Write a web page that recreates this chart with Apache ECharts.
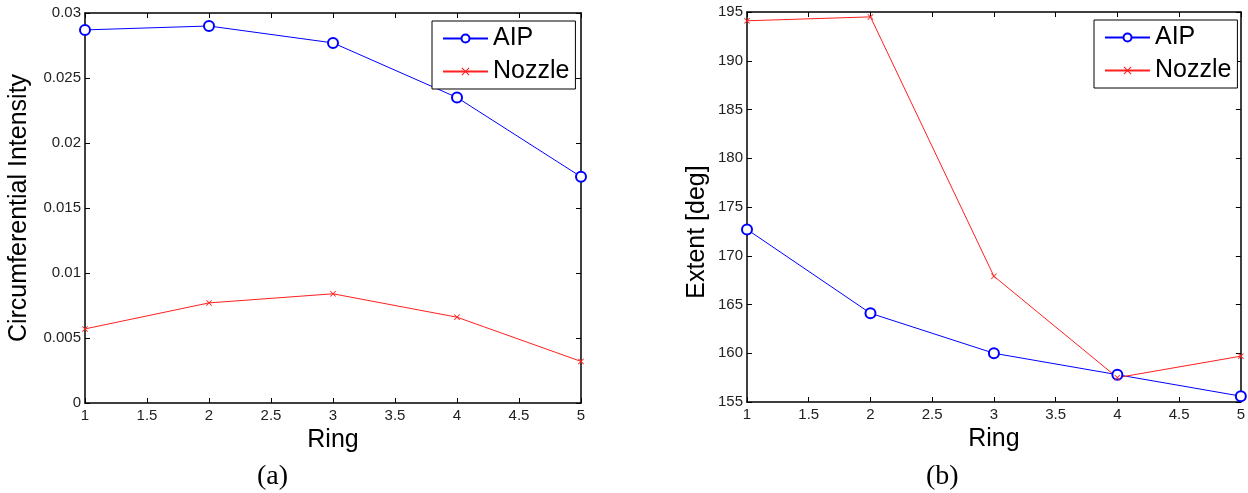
<!DOCTYPE html>
<html>
<head>
<meta charset="utf-8">
<script src="https://cdn.jsdelivr.net/npm/echarts@6/dist/echarts.min.js"></script>
<style>
html,body{margin:0;padding:0;background:#fff;}
#chart{width:1248px;height:493px;}
</style>
</head>
<body>
<div id="chart"></div>
<script>
// ---- data ----
var rings = [1, 2, 3, 4, 5];
var aipIntensity = [0.0287, 0.0290, 0.0277, 0.0235, 0.0174];
var nozzleIntensity = [0.0057, 0.0077, 0.0084, 0.0066, 0.0032];
var aipExtent = [172.7, 164.1, 160.0, 157.8, 155.6];
var nozzleExtent = [194.1, 194.5, 167.9, 157.5, 159.7];
var seriesNames = ['AIP', 'Nozzle'];
var xLabel = 'Ring';
var yLabelA = 'Circumferential Intensity';
var yLabelB = 'Extent [deg]';
var captions = ['(a)', '(b)'];

function pairs(ys) { return rings.map(function (r, i) { return [r, ys[i]]; }); }

var xMark = 'path://M0,1L1,0L5,4L9,0L10,1L6,5L10,9L9,10L5,6L1,10L0,9L4,5Z';
var BLUE = '#0000ff', RED = '#ff2020';
var FONT = 'Liberation Sans, Arial, sans-serif';

function xAxes(grid) {
  var base = {
    type: 'value', gridIndex: grid, min: 1, max: 5, interval: 0.5,
    splitLine: { show: false },
    axisLine: { show: true, onZero: false, lineStyle: { color: '#000', width: 1.5 } },
    axisTick: { show: true, inside: true, length: 5, lineStyle: { color: '#000' } }
  };
  var bottom = Object.assign({}, base, {
    position: 'bottom',
    axisLabel: { show: true, fontSize: 15, color: '#222', fontFamily: FONT, margin: 5 },
    name: xLabel, nameLocation: 'middle', nameGap: 25,
    nameTextStyle: { fontSize: 25, color: '#000', fontFamily: FONT, verticalAlign: 'top' }
  });
  var top = Object.assign({}, base, { position: 'top', axisLabel: { show: false } });
  return [bottom, top];
}
function yAxes(grid, min, max, interval, name, gap, pad) {
  var base = {
    type: 'value', gridIndex: grid, min: min, max: max, interval: interval,
    splitLine: { show: false },
    axisLine: { show: true, onZero: false, lineStyle: { color: '#000', width: 1.5 } },
    axisTick: { show: true, inside: true, length: 5, lineStyle: { color: '#000' } }
  };
  var left = Object.assign({}, base, {
    position: 'left',
    axisLabel: { show: true, fontSize: 15, color: '#222', fontFamily: FONT, margin: 4 },
    name: name, nameLocation: 'middle', nameGap: gap,
    nameTextStyle: { fontSize: 25, color: '#000', fontFamily: FONT, padding: pad }
  });
  var right = Object.assign({}, base, { position: 'right', axisLabel: { show: false } });
  return [left, right];
}

var xs = xAxes(0).concat(xAxes(1));
var ys = yAxes(0, 0, 0.03, 0.005, yLabelA, 53, [0, 0, 0, 0])
  .concat(yAxes(1, 155, 195, 5, yLabelB, 37, [0, 50, 0, 0]));

function lineSeries(name, data, xi, yi) {
  var isAip = name === seriesNames[0];
  var c = isAip ? BLUE : RED;
  return {
    name: name, type: 'line', xAxisIndex: xi, yAxisIndex: yi,
    data: pairs(data),
    symbol: isAip ? 'emptyCircle' : xMark,
    symbolSize: isAip ? 10 : 6,
    showSymbol: true,
    lineStyle: { color: c, width: 1 },
    itemStyle: { color: c, borderColor: c, borderWidth: isAip ? 0.9 : 0 },
    emphasis: { disabled: true },
    animation: false
  };
}

function legendAt(left, top) {
  return {
    orient: 'vertical', left: left, top: top,
    data: seriesNames,
    backgroundColor: '#fff', borderColor: '#000', borderWidth: 1, borderRadius: 0,
    padding: [5, 6, 5, 10], itemGap: 8, itemWidth: 45, itemHeight: 10,
    textStyle: { fontSize: 25, color: '#000', fontFamily: FONT, padding: [0, 0, 0, 0] },
    z: 10
  };
}

var chart = echarts.init(document.getElementById('chart'), null, { renderer: 'canvas' });
chart.setOption({
  animation: false,
  backgroundColor: '#fff',
  grid: [
    { left: 85, top: 13, width: 496, height: 390, show: false },
    { left: 747, top: 12, width: 496, height: 390, show: false }
  ],
  xAxis: xs,
  yAxis: ys,
  legend: [legendAt(432, 21), legendAt(1094, 20)],
  title: [
    { text: captions[0], left: 257, top: 463, padding: 0,
      textStyle: { fontFamily: 'Liberation Serif, Times New Roman, serif', fontSize: 28, fontWeight: 'normal', color: '#000' } },
    { text: captions[1], left: 926, top: 463, padding: 0,
      textStyle: { fontFamily: 'Liberation Serif, Times New Roman, serif', fontSize: 28, fontWeight: 'normal', color: '#000' } }
  ],
  series: [
    lineSeries(seriesNames[0], aipIntensity, 0, 0),
    lineSeries(seriesNames[1], nozzleIntensity, 0, 0),
    lineSeries(seriesNames[0], aipExtent, 2, 2),
    lineSeries(seriesNames[1], nozzleExtent, 2, 2)
  ]
});
</script>
</body>
</html>
